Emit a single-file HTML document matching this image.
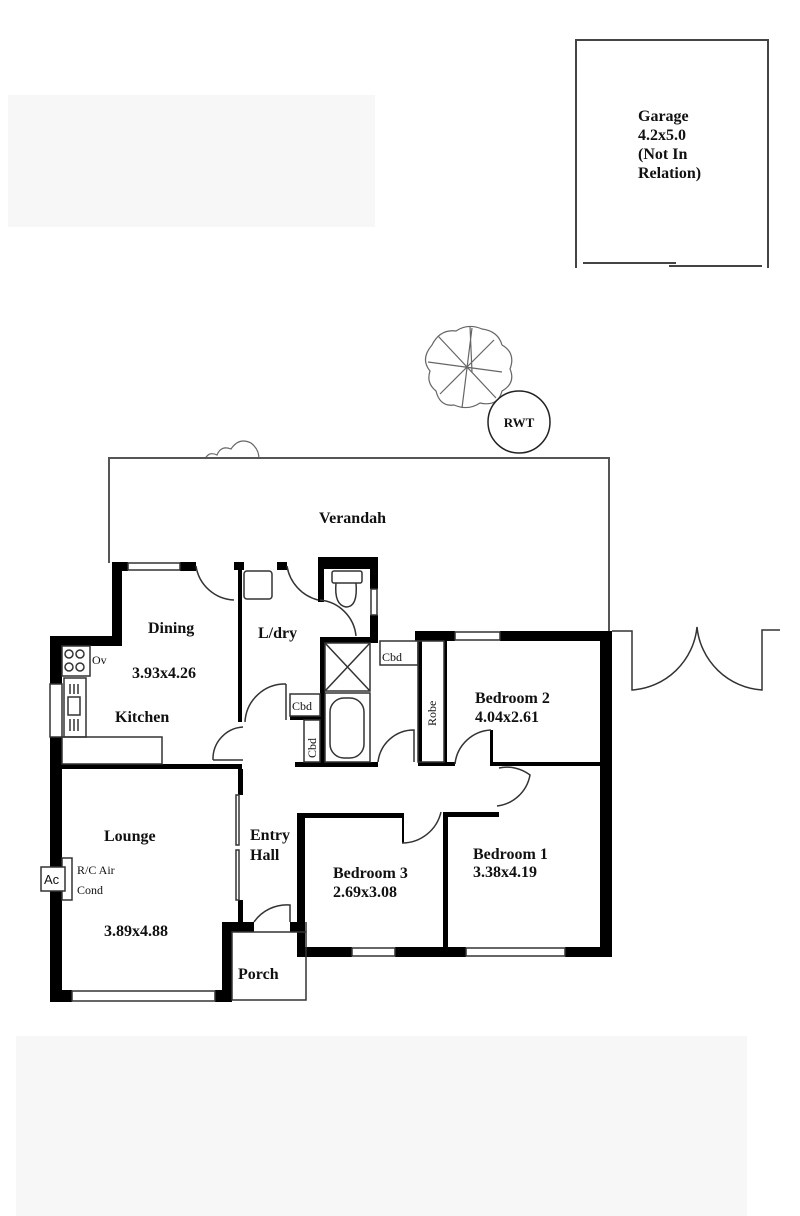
<!DOCTYPE html>
<html><head><meta charset="utf-8"><style>
html,body{margin:0;padding:0;background:#fff}
svg{display:block}
text{font-family:"Liberation Serif",serif;fill:#111}
.b{font-weight:bold;font-size:16px}
.s{font-size:12px}
</style></head><body>
<svg width="800" height="1216" viewBox="0 0 800 1216" xmlns="http://www.w3.org/2000/svg">
<rect x="8" y="95" width="367" height="132" fill="#f7f7f7"/>
<rect x="16" y="1036" width="731" height="180" fill="#f7f7f7"/>
<g fill="none" stroke="#444" stroke-width="2">
<path d="M576 268 V40 H768 V268"/>
<path d="M583 263 H676 M669 266 H762"/>
</g>
<text class="b" x="638" y="121">Garage</text>
<text class="b" x="638" y="140">4.2x5.0</text>
<text class="b" x="638" y="159">(Not In</text>
<text class="b" x="638" y="178">Relation)</text>
<g fill="none" stroke="#666" stroke-width="1.2">
<path d="M432 345 q8-16 24-14 q12-8 26-2 q16 2 20 16 q14 8 8 24 q6 14-8 22 q-4 16-22 12 q-12 8-26 2 q-14 2-18-14 q-10-8-6-20 q-10-12 2-26z"/>
<path d="M428 362 L502 372 M438 336 L496 398 M472 328 L462 408 M494 340 L440 394 M470 326 L472 372"/>
<path d="M205 459 q4-8 12-4 q4-10 14-6 q8-12 20-6 q8 6 8 16"/>
</g>
<circle cx="519" cy="422" r="31" fill="none" stroke="#222" stroke-width="1.5"/>
<text x="519" y="427" text-anchor="middle" style="font-size:13px;font-weight:bold">RWT</text>
<g fill="none" stroke="#555" stroke-width="2">
<path d="M109 563 V458 H609 V631"/>
</g>
<text class="b" x="319" y="523">Verandah</text>
<g fill="#000">
<rect x="112" y="562" width="16" height="9"/>
<rect x="180" y="562" width="16" height="9"/>
<rect x="112" y="562" width="10" height="83"/>
<rect x="50" y="636" width="72" height="10"/>
<rect x="50" y="636" width="12" height="48"/>
<rect x="50" y="737" width="12" height="265"/>
<rect x="50" y="990" width="22" height="12"/>
<rect x="215" y="990" width="17" height="12"/>
<rect x="222" y="922" width="10" height="80"/>
<rect x="222" y="922" width="32" height="10"/>
<rect x="238" y="562" width="4" height="160"/>
<rect x="234" y="562" width="10" height="8"/>
<rect x="277" y="562" width="10" height="8"/>
<rect x="318" y="557" width="60" height="12"/>
<rect x="318" y="557" width="6" height="45"/>
<rect x="370" y="557" width="8" height="32"/>
<rect x="370" y="615" width="8" height="28"/>
<rect x="320" y="637" width="58" height="6"/>
<rect x="320" y="637" width="5" height="130"/>
<rect x="290" y="716" width="30" height="4"/>
<rect x="295" y="762" width="83" height="5"/>
<rect x="415" y="631" width="40" height="10"/>
<rect x="500" y="631" width="112" height="10"/>
<rect x="600" y="631" width="12" height="326"/>
<rect x="418" y="641" width="4" height="125"/>
<rect x="444" y="641" width="3" height="125"/>
<rect x="418" y="762" width="37" height="4"/>
<rect x="490" y="730" width="3" height="36"/>
<rect x="490" y="762" width="110" height="4"/>
<rect x="62" y="764" width="180" height="5"/>
<rect x="238" y="769" width="5" height="26"/>
<rect x="238" y="900" width="5" height="22"/>
<rect x="297" y="813" width="8" height="144"/>
<rect x="297" y="813" width="106" height="5"/>
<rect x="402" y="813" width="2" height="30"/>
<rect x="443" y="812" width="5" height="145"/>
<rect x="443" y="812" width="56" height="5"/>
<rect x="297" y="947" width="55" height="10"/>
<rect x="395" y="947" width="71" height="10"/>
<rect x="565" y="947" width="47" height="10"/>
<rect x="290" y="922" width="15" height="10"/>
</g>
<g fill="none" stroke="#333" stroke-width="1.5">
<rect x="128" y="563" width="52" height="7"/>
<rect x="50" y="684" width="12" height="53"/>
<rect x="72" y="991" width="143" height="10"/>
<rect x="232" y="932" width="74" height="68"/>
<path d="M306 932 V922"/>
<rect x="352" y="948" width="43" height="8"/>
<rect x="466" y="948" width="99" height="8"/>
<rect x="455" y="632" width="45" height="8"/>
<rect x="371" y="589" width="6" height="26"/>
<rect x="62" y="737" width="100" height="27"/>
<rect x="62" y="646" width="28" height="30"/>
<rect x="64" y="678" width="22" height="59"/>
<rect x="68" y="697" width="12" height="18"/>
<path d="M70 684 v10 M74 684 v10 M78 684 v10 M70 719 v12 M74 719 v12 M78 719 v12"/>
<circle cx="69" cy="654" r="4"/><circle cx="80" cy="654" r="4"/><circle cx="69" cy="667" r="4"/><circle cx="80" cy="667" r="4"/>
<rect x="236" y="795" width="3" height="50"/>
<rect x="236" y="850" width="3" height="50"/>
<rect x="62" y="858" width="10" height="42"/>
<rect x="332" y="571" width="30" height="12" rx="2"/>
<path d="M336 583 q-2 22 10 24 q12 0 10-24"/>
<rect x="244" y="571" width="28" height="28" rx="3"/>
<rect x="325" y="643" width="45" height="48"/>
<path d="M325 643 L370 691 M370 643 L325 691"/>
<rect x="325" y="693" width="45" height="69"/>
<rect x="330" y="698" width="34" height="60" rx="14"/>
<rect x="290" y="694" width="30" height="22"/>
<rect x="304" y="720" width="16" height="42"/>
<rect x="380" y="641" width="38" height="24"/>
<rect x="418" y="641" width="26" height="121"/>
<path d="M196 566 A40 40 0 0 0 234 600"/>
<path d="M287 566 A42 42 0 0 0 318 600"/>
<path d="M320 600 A40 40 0 0 1 356 636"/>
<path d="M286 684 A40 40 0 0 0 245 722 M286 684 V720"/>
<path d="M243 727 A32 32 0 0 0 213 760 M213 760 H243"/>
<path d="M378 762 A36 36 0 0 1 414 730 V762"/>
<path d="M455 764 A38 38 0 0 1 491 730"/>
<path d="M499 768 A38 38 0 0 1 530 775 A38 38 0 0 1 497 806"/>
<path d="M402 843 A40 40 0 0 0 441 812"/>
<path d="M254 922 A40 40 0 0 1 290 905 V922"/>
<path d="M612 631 H632 V690 A70 70 0 0 0 697 627 A70 70 0 0 0 762 690 V630 H780"/>
</g>
<rect x="41" y="867" width="24" height="24" fill="#fff" stroke="#333" stroke-width="1.5"/>
<text x="44" y="884" style="font-family:'Liberation Sans',sans-serif;font-size:13px">Ac</text>
<text class="b" x="148" y="633">Dining</text>
<text class="b" x="132" y="678">3.93x4.26</text>
<text class="b" x="115" y="722">Kitchen</text>
<text class="s" x="92" y="664">Ov</text>
<text class="b" x="258" y="638">L/dry</text>
<text class="b" x="104" y="841">Lounge</text>
<text class="s" x="77" y="874">R/C Air</text>
<text class="s" x="77" y="894">Cond</text>
<text class="b" x="104" y="936">3.89x4.88</text>
<text class="b" x="250" y="840">Entry</text>
<text class="b" x="250" y="860">Hall</text>
<text class="b" x="238" y="979">Porch</text>
<text class="b" x="333" y="878">Bedroom 3</text>
<text class="b" x="333" y="897">2.69x3.08</text>
<text class="b" x="473" y="859">Bedroom 1</text>
<text class="b" x="473" y="877">3.38x4.19</text>
<text class="b" x="475" y="703">Bedroom 2</text>
<text class="b" x="475" y="722">4.04x2.61</text>
<text class="s" x="292" y="710">Cbd</text>
<text class="s" x="382" y="661">Cbd</text>
<text class="s" transform="translate(316,758) rotate(-90)">Cbd</text>
<text class="s" transform="translate(436,726) rotate(-90)">Robe</text>
</svg>
</body></html>
